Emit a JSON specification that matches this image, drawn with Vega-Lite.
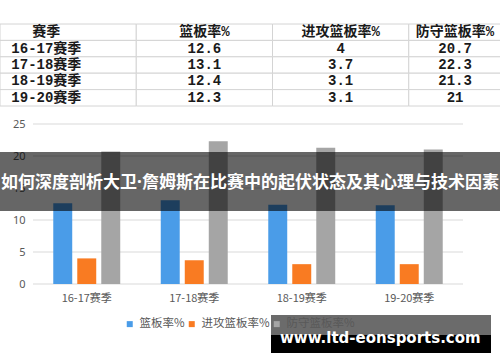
{
  "$schema": "https://vega.github.io/schema/vega-lite/v6.json",
  "width": 500,
  "height": 362,
  "autosize": {"type": "none"},
  "padding": 0,
  "background": "white",
  "config": {"view": {"stroke": null}, "font": "Noto Sans CJK SC"},
  "datasets": {
    "table": [
      {"r": "赛季", "c": "赛季", "t": "赛季"},
      {"r": "赛季", "c": "篮板率%", "t": "篮板率%"},
      {"r": "赛季", "c": "进攻篮板率%", "t": "进攻篮板率%"},
      {"r": "赛季", "c": "防守篮板率%", "t": "防守篮板率%"},
      {"r": "16-17赛季", "c": "赛季", "t": "16-17赛季"},
      {"r": "16-17赛季", "c": "篮板率%", "t": "12.6"},
      {"r": "16-17赛季", "c": "进攻篮板率%", "t": "4"},
      {"r": "16-17赛季", "c": "防守篮板率%", "t": "20.7"},
      {"r": "17-18赛季", "c": "赛季", "t": "17-18赛季"},
      {"r": "17-18赛季", "c": "篮板率%", "t": "13.1"},
      {"r": "17-18赛季", "c": "进攻篮板率%", "t": "3.7"},
      {"r": "17-18赛季", "c": "防守篮板率%", "t": "22.3"},
      {"r": "18-19赛季", "c": "赛季", "t": "18-19赛季"},
      {"r": "18-19赛季", "c": "篮板率%", "t": "12.4"},
      {"r": "18-19赛季", "c": "进攻篮板率%", "t": "3.1"},
      {"r": "18-19赛季", "c": "防守篮板率%", "t": "21.3"},
      {"r": "19-20赛季", "c": "赛季", "t": "19-20赛季"},
      {"r": "19-20赛季", "c": "篮板率%", "t": "12.3"},
      {"r": "19-20赛季", "c": "进攻篮板率%", "t": "3.1"},
      {"r": "19-20赛季", "c": "防守篮板率%", "t": "21"}
    ],
    "stats": [
      {"season": "16-17赛季", "metric": "篮板率%", "value": 12.6},
      {"season": "16-17赛季", "metric": "进攻篮板率%", "value": 4},
      {"season": "16-17赛季", "metric": "防守篮板率%", "value": 20.7},
      {"season": "17-18赛季", "metric": "篮板率%", "value": 13.1},
      {"season": "17-18赛季", "metric": "进攻篮板率%", "value": 3.7},
      {"season": "17-18赛季", "metric": "防守篮板率%", "value": 22.3},
      {"season": "18-19赛季", "metric": "篮板率%", "value": 12.4},
      {"season": "18-19赛季", "metric": "进攻篮板率%", "value": 3.1},
      {"season": "18-19赛季", "metric": "防守篮板率%", "value": 21.3},
      {"season": "19-20赛季", "metric": "篮板率%", "value": 12.3},
      {"season": "19-20赛季", "metric": "进攻篮板率%", "value": 3.1},
      {"season": "19-20赛季", "metric": "防守篮板率%", "value": 21}
    ],
    "grid": [{"v": 0}, {"v": 5}, {"v": 10}, {"v": 15}, {"v": 20}, {"v": 25}],
    "banner": [{"title": "如何深度剖析大卫·詹姆斯在比赛中的起伏状态及其心理与技术因素"}],
    "watermark": [{"site": "www.ltd-eonsports.com"}]
  },
  "layer": [
    {
      "data": {"name": "table"},
      "mark": {"type": "rect", "fill": "white", "stroke": "#d4d4d4", "strokeWidth": 1},
      "encoding": {
        "x": {"field": "c", "type": "nominal", "scale": {"type": "band", "domain": ["赛季", "篮板率%", "进攻篮板率%", "防守篮板率%"], "range": [0, 545], "paddingInner": 0, "paddingOuter": 0}, "axis": null},
        "y": {"field": "r", "type": "nominal", "scale": {"type": "band", "domain": ["赛季", "16-17赛季", "17-18赛季", "18-19赛季", "19-20赛季"], "range": [24, 106], "paddingInner": 0, "paddingOuter": 0}, "axis": null}
      }
    },
    {
      "data": {"name": "table"},
      "transform": [{"filter": "datum.c === '篮板率%' || datum.c === '进攻篮板率%'"}],
      "mark": {"type": "text", "font": "Liberation Mono, Noto Sans CJK SC", "fontSize": 14, "fontWeight": "bold", "color": "#1a1a1a", "align": "center", "baseline": "middle"},
      "encoding": {
        "x": {"field": "c", "type": "nominal", "bandPosition": 0.5, "scale": {"type": "band", "domain": ["赛季", "篮板率%", "进攻篮板率%", "防守篮板率%"], "range": [0, 545], "paddingInner": 0, "paddingOuter": 0}, "axis": null},
        "y": {"field": "r", "type": "nominal", "scale": {"type": "band", "domain": ["赛季", "16-17赛季", "17-18赛季", "18-19赛季", "19-20赛季"], "range": [24, 106], "paddingInner": 0, "paddingOuter": 0}, "axis": null},
        "text": {"field": "t", "type": "nominal"}
      }
    },
    {
      "data": {"name": "table"},
      "transform": [{"filter": "datum.c === '赛季' || datum.c === '防守篮板率%'"}],
      "mark": {"type": "text", "font": "Liberation Mono, Noto Sans CJK SC", "fontSize": 14, "fontWeight": "bold", "color": "#1a1a1a", "align": "center", "baseline": "middle"},
      "encoding": {
        "x": {"field": "c", "type": "nominal", "bandPosition": 0.34, "scale": {"type": "band", "domain": ["赛季", "篮板率%", "进攻篮板率%", "防守篮板率%"], "range": [0, 545], "paddingInner": 0, "paddingOuter": 0}, "axis": null},
        "y": {"field": "r", "type": "nominal", "scale": {"type": "band", "domain": ["赛季", "16-17赛季", "17-18赛季", "18-19赛季", "19-20赛季"], "range": [24, 106], "paddingInner": 0, "paddingOuter": 0}, "axis": null},
        "text": {"field": "t", "type": "nominal"}
      }
    },
    {
      "data": {"name": "grid"},
      "mark": {"type": "rule", "color": "#d9d9d9", "strokeWidth": 1},
      "encoding": {
        "y": {"field": "v", "type": "quantitative", "scale": {"domain": [0, 25], "range": [284, 124], "nice": false, "zero": false}, "axis": null},
        "x": {"datum": 0, "type": "quantitative", "scale": {"domain": [0, 1], "range": [33, 463], "nice": false}, "axis": null},
        "x2": {"datum": 1}
      }
    },
    {
      "data": {"name": "stats"},
      "mark": {"type": "bar"},
      "encoding": {
        "x": {"field": "season", "type": "nominal", "scale": {"type": "band", "domain": ["16-17赛季", "17-18赛季", "18-19赛季", "19-20赛季"], "range": [33, 463], "paddingInner": 0.377, "paddingOuter": 0.1885},
          "axis": {"orient": "bottom", "offset": -78, "title": null, "labelAngle": 0, "domain": false, "ticks": false, "grid": false, "labelPadding": 8, "labelFontSize": 11, "labelColor": "#595959", "labelFont": "Noto Sans CJK SC"}},
        "xOffset": {"field": "metric", "type": "nominal", "scale": {"domain": ["篮板率%", "进攻篮板率%", "防守篮板率%"], "paddingInner": 0.21, "paddingOuter": 0}},
        "y": {"field": "value", "type": "quantitative", "scale": {"domain": [0, 25], "range": [284, 124], "nice": false, "zero": false},
          "axis": {"orient": "left", "offset": -33, "values": [0, 5, 10, 15, 20, 25], "title": null, "domain": false, "ticks": false, "grid": false, "labelPadding": 8, "labelFontSize": 11, "labelColor": "#595959", "labelFont": "Noto Sans"}},
        "color": {"field": "metric", "type": "nominal", "scale": {"domain": ["篮板率%", "进攻篮板率%", "防守篮板率%"], "range": ["#4a9ce8", "#f97b22", "#a5a5a5"]},
          "legend": {"orient": "none", "legendX": 124, "legendY": 318, "direction": "horizontal", "gridAlign": "each", "title": null, "symbolType": "square", "symbolSize": 36, "symbolStrokeWidth": 0, "labelFontSize": 11.5, "labelColor": "#595959", "labelFont": "Noto Sans CJK SC", "labelOffset": 4, "columnPadding": 1, "padding": 0}}
      }
    },
    {
      "data": {"name": "banner"},
      "layer": [
        {
          "mark": {"type": "rect", "fill": "black", "opacity": 0.6},
          "encoding": {
            "x": {"datum": 0, "type": "quantitative", "scale": {"domain": [0, 1], "range": [0, 500], "nice": false}, "axis": null},
            "x2": {"datum": 1},
            "y": {"datum": 0, "type": "quantitative", "scale": {"domain": [0, 1], "range": [152, 211], "nice": false}, "axis": null},
            "y2": {"datum": 1}
          }
        },
        {
          "mark": {"type": "text", "color": "white", "font": "Noto Sans, Noto Sans CJK SC", "fontSize": 17, "fontWeight": "bold", "align": "center", "baseline": "middle"},
          "encoding": {
            "x": {"datum": 0.5, "type": "quantitative"},
            "y": {"datum": 0.53, "type": "quantitative"},
            "text": {"field": "title", "type": "nominal"}
          }
        }
      ]
    },
    {
      "data": {"name": "watermark"},
      "layer": [
        {
          "mark": {"type": "rect", "fill": "black", "opacity": 0.58},
          "encoding": {
            "x": {"datum": 0, "type": "quantitative", "scale": {"domain": [0, 1], "range": [271, 491], "nice": false}, "axis": null},
            "x2": {"datum": 1},
            "y": {"datum": 0, "type": "quantitative", "scale": {"domain": [0, 1], "range": [315, 353], "nice": false}, "axis": null},
            "y2": {"datum": 0.526}
          }
        },
        {
          "mark": {"type": "rect", "fill": "black", "opacity": 1},
          "encoding": {
            "x": {"datum": 0, "type": "quantitative"},
            "x2": {"datum": 1},
            "y": {"datum": 0.526, "type": "quantitative"},
            "y2": {"datum": 1}
          }
        },
        {
          "mark": {"type": "text", "color": "white", "font": "DejaVu Sans", "fontSize": 15, "fontWeight": "bold", "align": "center", "baseline": "alphabetic"},
          "encoding": {
            "x": {"datum": 0.497, "type": "quantitative"},
            "y": {"datum": 0.737, "type": "quantitative"},
            "text": {"field": "site", "type": "nominal"}
          }
        }
      ]
    }
  ],
  "resolve": {"scale": {"x": "independent", "y": "independent", "color": "independent", "xOffset": "independent"}}
}
